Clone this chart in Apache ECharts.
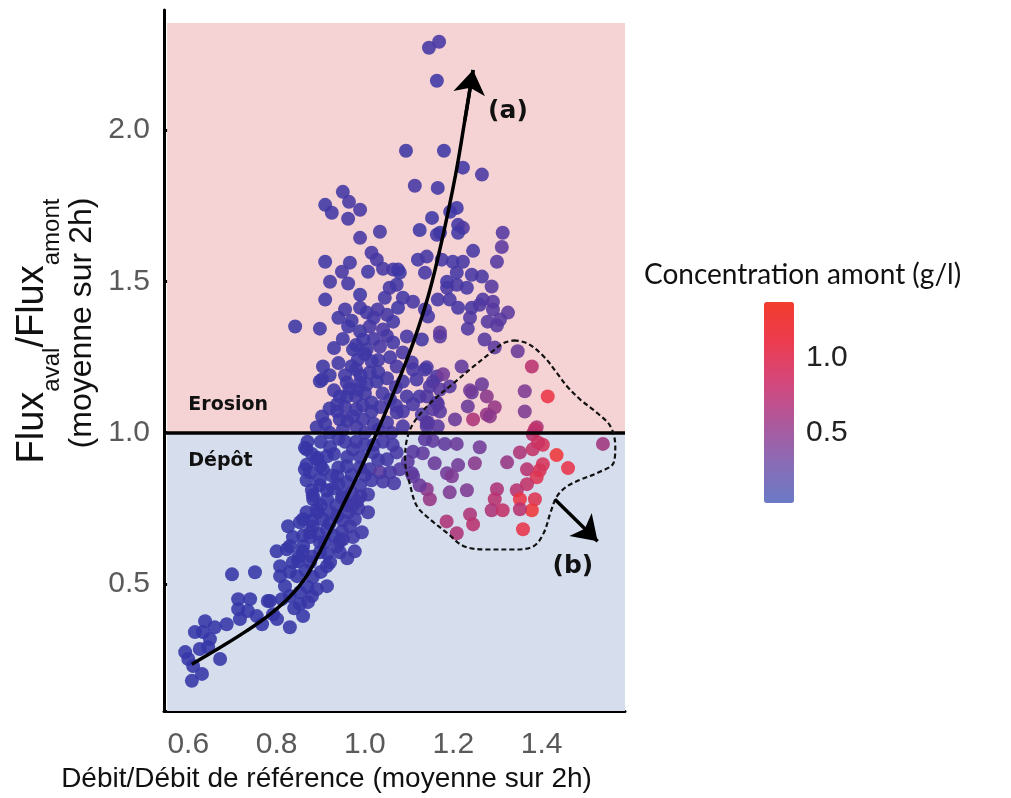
<!DOCTYPE html>
<html><head><meta charset="utf-8">
<script src="https://cdn.jsdelivr.net/npm/echarts@6/dist/echarts.min.js"></script>
<style>html,body{margin:0;padding:0;background:#fff}#c{width:1011px;height:798px}</style>
</head><body><div id="c"></div>
<script>
// ---- data: [débit ratio, flux ratio, concentration amont (g/l)] ----
const topPoints = [
[1.145,2.272,0.28],[1.168,2.292,0.30],[1.163,2.163,0.20],[1.093,1.932,0.22],[1.179,1.932,0.20],
[1.222,1.876,0.25],[1.265,1.853,0.32],[1.113,1.816,0.30],[1.165,1.809,0.25],[0.950,1.796,0.25],
[0.910,1.753,0.22],[0.964,1.763,0.30],[0.925,1.727,0.25],[0.989,1.737,0.30],[0.962,1.707,0.28],
[1.152,1.710,0.20],[1.208,1.743,0.20],[1.193,1.730,0.22],[1.211,1.687,0.25],[1.222,1.677,0.35],
[1.124,1.670,0.20],[1.034,1.664,0.30],[0.989,1.644,0.30],[1.312,1.661,0.38],[1.170,1.661,0.18],
[1.211,1.661,0.25],[1.310,1.614,0.42],[1.245,1.601,0.30],[1.299,1.565,0.38],[1.163,1.654,0.25]
];
const upperPoints = [
[0.910,1.565,0.20],[0.966,1.562,0.25],[1.015,1.595,0.30],[1.027,1.572,0.30],[0.948,1.532,0.30],
[0.921,1.499,0.28],[0.962,1.493,0.25],[1.007,1.532,0.20],[1.041,1.542,0.30],[1.064,1.539,0.28],
[1.075,1.539,0.25],[1.120,1.572,0.25],[1.140,1.582,0.30],[1.174,1.572,0.30],[0.910,1.440,0.20],
[0.989,1.456,0.20],[0.955,1.407,0.25],[0.989,1.413,0.25],[1.004,1.397,0.25],[1.029,1.407,0.30],
[1.045,1.446,0.25],[1.056,1.479,0.30],[1.072,1.489,0.25],[1.075,1.413,0.20],[1.086,1.446,0.25],
[1.109,1.433,0.30],[1.136,1.407,0.28],[1.143,1.384,0.30],[1.165,1.440,0.30],[1.186,1.479,0.32],
[1.199,1.565,0.25],[1.222,1.565,0.30],[1.136,1.529,0.30],[1.208,1.529,0.28],[1.242,1.522,0.30],
[1.265,1.516,0.32],[1.186,1.499,0.25],[1.208,1.489,0.30],[1.231,1.479,0.30],[1.287,1.483,0.38],
[1.079,1.529,0.20],[1.192,1.440,0.30],[1.267,1.440,0.35],[1.290,1.433,0.38],[1.211,1.413,0.30],
[1.242,1.413,0.32],[1.260,1.423,0.35],[1.290,1.407,0.38],[1.324,1.397,0.42],[1.238,1.380,0.35],
[1.278,1.367,0.38],[1.306,1.374,0.40],[1.233,1.344,0.35],[1.299,1.354,0.40]
];
const midPoints = [
[0.842,1.351,0.18],[0.898,1.344,0.20],[0.962,1.351,0.20],[0.989,1.335,0.22],[1.011,1.351,0.28],
[1.041,1.341,0.30],[1.064,1.367,0.25],[1.095,1.318,0.30],[1.129,1.308,0.28],[1.170,1.331,0.45],
[0.996,1.308,0.20],[0.973,1.275,0.18],[1.004,1.275,0.22],[1.034,1.285,0.30],[1.064,1.298,0.25],
[1.086,1.265,0.30],[0.984,1.242,0.20],[1.015,1.236,0.20],[1.057,1.249,0.25],[0.905,1.219,0.18],
[0.903,1.176,0.18],[0.980,1.209,0.20],[1.011,1.199,0.20],[1.072,1.219,0.30],[1.106,1.232,0.30],
[1.140,1.216,0.35],[1.163,1.186,0.32],[1.177,1.193,0.55],[0.959,1.166,0.20],[0.989,1.166,0.20],
[1.027,1.169,0.18],[1.086,1.169,0.25],[1.117,1.176,0.30],[1.147,1.153,0.35],[1.192,1.153,0.40],
[0.943,1.120,0.18],[0.980,1.120,0.20],[1.015,1.100,0.20],[1.095,1.120,0.28],[1.124,1.120,0.30],
[1.163,1.100,0.35],[0.903,1.054,0.18],[0.937,1.070,0.20],[0.973,1.054,0.20],[1.086,1.070,0.30],
[1.129,1.060,0.32],[1.170,1.070,0.40],[0.891,1.018,0.18],[1.140,1.021,0.35],
[1.271,1.308,0.40],[1.294,1.282,0.42],[1.346,1.269,0.50],[1.219,1.219,0.45],[1.109,1.209,0.30],
[1.136,1.209,0.30],[1.154,1.169,0.35],[1.265,1.160,0.50],[1.242,1.133,0.50],[1.170,1.143,0.40],
[1.165,1.094,0.40],[1.233,1.087,0.50],[1.204,1.044,0.50],[1.143,1.034,0.40],[1.238,1.140,0.55],
[1.170,1.318,0.40],
[0.898,1.170,0.18],[0.937,1.094,0.20],[0.959,1.120,0.18],[0.984,1.143,0.20],[1.004,1.160,0.20],
[0.980,1.077,0.20],[1.015,1.070,0.22],[0.943,1.044,0.18],[0.996,1.044,0.20],[1.057,1.110,0.25],
[1.072,1.067,0.28],[1.109,1.094,0.30],[1.140,1.120,0.35],[1.154,1.077,0.38],[1.140,1.034,0.38],
[1.165,1.021,0.40],[1.086,1.021,0.30],[1.050,1.034,0.25]
];
const corePoints = [
[0.920,1.000,0.18],[0.950,1.010,0.20],[0.980,1.020,0.20],[1.000,1.000,0.22],[1.030,1.010,0.25],
[0.910,1.030,0.18],[0.960,1.040,0.20],[1.020,1.030,0.22],[1.060,1.000,0.28],[0.920,1.080,0.18],
[0.955,1.085,0.20],[0.995,1.090,0.20],[1.035,1.085,0.25],[1.070,1.090,0.28],[0.930,1.140,0.20],
[0.965,1.145,0.20],[1.000,1.130,0.20],[1.040,1.130,0.25],[1.070,1.150,0.28],[0.920,1.190,0.18],
[0.955,1.190,0.20],[0.990,1.190,0.22],[1.030,1.200,0.22],[1.050,1.180,0.28],[0.940,1.230,0.20],
[0.970,1.220,0.20],[1.000,1.260,0.20],[1.030,1.240,0.25],[0.950,1.310,0.20],[0.980,1.290,0.22],
[1.020,1.310,0.25],[1.050,1.320,0.28],[0.930,1.280,0.20],[0.940,1.380,0.22],[0.970,1.370,0.22],
[1.020,1.380,0.25],[1.050,1.390,0.28]
];
const lowerPoints = [
[0.864,0.950,0.15],[0.868,0.894,0.15],[0.893,0.917,0.15],[0.921,0.953,0.18],[0.955,0.970,0.20],
[0.973,0.945,0.20],[1.000,0.960,0.20],[1.018,0.935,0.22],[1.041,0.970,0.25],[1.063,0.960,0.28],
[1.072,0.935,0.30],[1.050,0.912,0.25],[0.905,0.879,0.15],[0.876,0.869,0.15],[0.925,0.859,0.18],
[0.959,0.889,0.18],[0.989,0.886,0.20],[1.011,0.879,0.22],[1.034,0.869,0.40],[1.057,0.869,0.30],
[1.079,0.879,0.35],[0.868,0.843,0.15],[0.898,0.826,0.15],[0.928,0.816,0.18],[0.959,0.836,0.18],
[0.989,0.826,0.20],[1.015,0.843,0.22],[1.041,0.839,0.28],[1.066,0.833,0.30],[0.883,0.780,0.15],
[0.914,0.780,0.15],[0.948,0.786,0.18],[0.982,0.773,0.20],[1.007,0.796,0.22],[0.868,0.737,0.15],
[0.893,0.737,0.15],[0.921,0.737,0.18],[0.962,0.737,0.20],[1.007,0.737,0.22],[0.977,0.714,0.20],
[0.826,0.691,0.12],[0.853,0.704,0.12],[0.882,0.691,0.15],[0.914,0.681,0.15],[0.948,0.674,0.18],
[0.837,0.655,0.12],[0.876,0.655,0.15],[0.909,0.638,0.15],[0.943,0.641,0.18],[0.973,0.655,0.20],
[0.823,0.615,0.12],[0.859,0.608,0.12],[0.898,0.605,0.15],[0.943,0.605,0.18],[0.977,0.608,0.20],
[0.849,0.575,0.12],[0.921,0.572,0.15],
[0.868,0.945,0.15],[0.864,0.879,0.15],[0.891,0.912,0.15],[0.914,0.922,0.15],[0.898,0.846,0.15],
[0.937,0.856,0.18],[0.882,0.793,0.15],[0.914,0.810,0.15],[0.950,0.793,0.18],[0.891,0.747,0.15],
[0.860,0.714,0.12],[0.905,0.714,0.15],[0.937,0.724,0.18],[0.971,0.757,0.20],[0.876,0.671,0.15],
[0.966,0.691,0.20],[0.993,0.671,0.20],[0.800,0.608,0.12],[0.830,0.625,0.12],[0.860,0.625,0.12],
[0.898,0.638,0.15],[0.937,0.625,0.18],[0.950,0.648,0.18],[0.808,0.559,0.12],[0.837,0.572,0.12],
[0.876,0.572,0.15],[0.914,0.559,0.15],[0.808,0.526,0.12],[0.846,0.526,0.12],[0.882,0.523,0.15],
[0.914,0.493,0.15],[0.891,0.483,0.15],[0.853,0.473,0.12],[0.819,0.493,0.12],[0.785,0.444,0.12],
[0.812,0.450,0.12],[0.853,0.434,0.12],[0.871,0.440,0.15],[0.860,0.394,0.12],[0.830,0.357,0.12]
];
const denseLowPoints = [
[0.870,0.970,0.15],[0.900,0.970,0.15],[0.940,0.980,0.18],[0.980,0.970,0.20],[1.020,0.960,0.22],
[0.880,0.930,0.15],[0.930,0.930,0.18],[0.960,0.920,0.18],[0.990,0.920,0.20],[1.030,0.910,0.22],
[0.900,0.890,0.15],[0.940,0.885,0.18],[0.970,0.860,0.18],[1.000,0.860,0.20],[0.880,0.810,0.15],
[0.940,0.830,0.18],[0.970,0.800,0.20],[0.990,0.790,0.20],[0.900,0.760,0.15],[0.935,0.760,0.18],
[0.960,0.760,0.20],[0.985,0.750,0.20],[0.880,0.710,0.15],[0.920,0.700,0.15],[0.950,0.710,0.18],
[0.860,0.660,0.12],[0.895,0.665,0.15],[0.930,0.660,0.15],[0.850,0.590,0.12],[0.880,0.590,0.15],
[0.915,0.600,0.15],[0.960,0.585,0.18],[0.830,0.540,0.12],[0.865,0.545,0.12],[0.900,0.540,0.15],
[0.830,0.460,0.12],[0.870,0.490,0.12],[0.840,0.420,0.12],[0.880,0.460,0.15]
];
const tailPoints = [
[0.699,0.532,0.10],[0.751,0.539,0.10],[0.713,0.450,0.10],[0.740,0.450,0.10],[0.713,0.417,0.10],
[0.735,0.411,0.10],[0.755,0.394,0.10],[0.780,0.444,0.12],[0.767,0.367,0.10],[0.792,0.400,0.12],
[0.801,0.384,0.12],[0.687,0.367,0.10],[0.660,0.357,0.10],[0.638,0.377,0.10],[0.633,0.341,0.10],
[0.615,0.341,0.10],[0.649,0.318,0.10],[0.672,0.252,0.10],[0.626,0.285,0.10],[0.593,0.275,0.10],
[0.600,0.252,0.10],[0.611,0.229,0.10],[0.631,0.203,0.10],[0.608,0.180,0.10],[0.645,0.291,0.10],
[0.717,0.384,0.10]
];
const plumePoints = [
[1.378,1.219,0.85],[1.276,1.120,0.65],[1.362,1.137,0.60],[1.414,1.120,1.15],[1.294,1.084,0.70],
[1.276,1.060,0.70],[1.362,1.070,0.60],[1.245,1.044,0.80],[1.389,1.018,0.80],[1.283,1.054,0.65],
[1.385,1.011,0.90],[1.539,0.963,0.75],[1.403,0.960,1.00],[1.434,0.926,1.25],[1.460,0.883,1.10],
[1.380,0.945,0.90],[1.351,0.935,0.80],[1.322,0.902,0.70],[1.367,0.879,0.85],[1.396,0.876,1.00],
[1.403,0.896,1.00],[1.389,0.853,1.05],[1.367,0.830,0.90],[1.344,0.810,0.85],[1.385,0.780,1.05],
[1.351,0.780,1.15],[1.378,0.744,1.25],[1.299,0.813,0.80],[1.294,0.780,0.85],[1.287,0.744,0.80],
[1.312,0.744,0.90],[1.351,0.747,0.85],[1.358,0.681,1.10],[1.238,0.730,0.80],[1.245,0.697,0.85],
[1.231,0.810,0.60],[1.192,0.803,0.60],[1.140,0.813,0.65],[1.147,0.780,0.70],[1.185,0.707,0.80],
[1.208,0.668,0.80],[1.260,0.952,0.55],[1.249,0.899,0.65],[1.211,0.893,0.55],[1.186,0.866,0.55],
[1.197,0.856,0.60],[1.158,0.899,0.50],[1.131,0.932,0.45],[1.109,0.937,0.40],[1.097,0.904,0.40],
[1.106,0.866,0.40],[1.124,0.826,0.50],[1.181,0.963,0.45],[1.154,0.973,0.45],[1.136,0.978,0.40],
[1.208,0.963,0.50],[1.380,0.995,0.85],[1.392,0.968,0.95],[1.109,0.856,0.45]
];
// trend curve (a), contour of group (b), arrow (b)
const curveA = [[0.608,0.235],[0.672,0.290],[0.732,0.345],[0.785,0.400],[0.830,0.458],[0.865,0.520],
[0.895,0.598],[0.925,0.685],[0.958,0.783],[0.990,0.880],[1.027,1.000],[1.070,1.150],[1.110,1.300],
[1.145,1.460],[1.175,1.640],[1.205,1.850],[1.226,2.030],[1.245,2.199]];
const zoneB = [[1.337,1.305],[1.367,1.296],[1.405,1.252],[1.435,1.197],[1.458,1.153],[1.488,1.109],
[1.526,1.065],[1.556,1.021],[1.567,0.955],[1.563,0.900],[1.526,0.867],[1.488,0.845],[1.458,0.823],
[1.435,0.790],[1.420,0.735],[1.405,0.669],[1.382,0.625],[1.337,0.614],[1.277,0.614],[1.224,0.625],
[1.186,0.669],[1.148,0.713],[1.118,0.757],[1.103,0.823],[1.091,0.911],[1.095,0.977],[1.110,1.032],
[1.148,1.098],[1.201,1.164],[1.246,1.219],[1.284,1.263],[1.314,1.296],[1.337,1.305]];
const arrowB = [[1.430,0.780],[1.527,0.641]];
const xTicks = [0.6, 0.8, 1.0, 1.2, 1.4];
const yTicks = [0.5, 1.0, 1.5, 2.0];
const cbTicks = [0.5, 1.0];
const annotations = [
  {name: '(a)', coord: [1.324, 2.060], size: 25, align: 'center'},
  {name: '(b)', coord: [1.471, 0.559], size: 25, align: 'center'},
  {name: 'Erosion', coord: [0.600, 1.092], size: 19, align: 'left'},
  {name: 'Dépôt', coord: [0.600, 0.907], size: 19, align: 'left'}
];
const X_MIN = 0.545, X_MAX = 1.589, Y_MIN = 0.080, Y_MAX = 2.397, Y_BG_TOP = 2.354;
const C_MIN = 0.03, C_MAX = 1.37;

const allPoints = [].concat(tailPoints, denseLowPoints, lowerPoints, corePoints, midPoints, upperPoints, topPoints, plumePoints);
const fmt = v => Number(v).toFixed(1);

const chart = echarts.init(document.getElementById('c'));
chart.setOption({
  animation: false,
  backgroundColor: '#ffffff',
  title: {
    text: 'Concentration amont (g/l)', left: 644, top: 261, padding: 0,
    textStyle: {fontFamily: 'Lato', fontSize: 28, fontWeight: 'normal', color: '#111'}
  },
  grid: [
    {left: 164, right: 386, top: 10, bottom: 86},
    {left: 764, width: 30, top: 302, height: 201}
  ],
  xAxis: [{
    type: 'value', min: X_MIN, max: X_MAX, gridIndex: 0,
    axisLine: {show: true, onZero: false, lineStyle: {color: '#000', width: 3}},
    axisTick: {show: true, inside: true, length: 11, lineStyle: {color: '#000', width: 3}, customValues: xTicks},
    axisLabel: {customValues: xTicks, formatter: fmt, margin: 19, fontSize: 30, fontFamily: 'Liberation Sans', color: '#5a5a5a'},
    splitLine: {show: false},
    name: 'Débit/Débit de référence (moyenne sur 2h)', nameLocation: 'middle', nameGap: 53,
    nameTextStyle: {fontSize: 28, fontFamily: 'Liberation Sans', color: '#111', padding: [0, 136, 0, 0]}
  }, {
    type: 'value', gridIndex: 1, show: false, min: 0, max: 1
  }],
  yAxis: [{
    type: 'value', min: Y_MIN, max: Y_MAX, gridIndex: 0,
    axisLine: {show: true, onZero: false, lineStyle: {color: '#000', width: 3}},
    axisTick: {show: true, inside: true, length: 9, lineStyle: {color: '#000', width: 3}, customValues: yTicks},
    axisLabel: {customValues: yTicks, formatter: fmt, margin: 14, fontSize: 30, fontFamily: 'Liberation Sans', color: '#5a5a5a'},
    splitLine: {show: false}
  }, {
    type: 'value', gridIndex: 1, position: 'right', min: C_MIN, max: C_MAX,
    axisLine: {show: false},
    axisTick: {show: true, inside: true, length: 7, lineStyle: {color: 'rgba(255,255,255,0.9)', width: 1.5}, customValues: cbTicks},
    axisLabel: {customValues: cbTicks, formatter: fmt, margin: 12, fontSize: 30, fontFamily: 'Liberation Sans', color: '#222'},
    splitLine: {show: false}
  }, {
    type: 'value', gridIndex: 1, position: 'left', min: C_MIN, max: C_MAX,
    axisLine: {show: false},
    axisTick: {show: true, inside: true, length: 7, lineStyle: {color: 'rgba(255,255,255,0.9)', width: 1.5}, customValues: cbTicks},
    axisLabel: {show: false},
    splitLine: {show: false}
  }],
  visualMap: {
    type: 'continuous', min: C_MIN, max: C_MAX, dimension: 2, seriesIndex: 1,
    left: 764, top: 302, itemWidth: 30, itemHeight: 201, padding: 0,
    calculable: false, showLabel: false, text: null, z: 1,
    inRange: {color: ['#2e36a8', '#4537a3', '#753a96', '#b53272', '#e8334a', '#f43b2c']},
    controller: {inRange: {color: ['#6b7ac6', '#8a6cb6', '#ad589c', '#d4487c', '#ec3c50', '#f23c2c']}}
  },
  graphic: [
    {type: 'text', x: 33, y: 331, rotation: Math.PI / 2, z: 10,
     style: {text: '{b|Flux}{s|aval}{b|/Flux}{s|amont}', align: 'center', verticalAlign: 'middle',
       rich: {
         b: {fontSize: 38, fontFamily: 'Liberation Sans', fill: '#111', lineHeight: 38, padding: [0, 0, 12, 0], verticalAlign: 'top'},
         s: {fontSize: 24, fontFamily: 'Liberation Sans', fill: '#111', lineHeight: 24, padding: [26, 0, 0, 0], verticalAlign: 'top'}
       }}},
    {type: 'text', x: 82, y: 323, rotation: Math.PI / 2, z: 10,
     style: {text: '(moyenne sur 2h)', align: 'center', verticalAlign: 'middle',
       fontSize: 32, fontFamily: 'Liberation Sans', fill: '#111'}}
  ],
  series: [
    {
      type: 'line', name: 'zones', data: [], xAxisIndex: 0, yAxisIndex: 0, z: 1, silent: true,
      markArea: {
        silent: true,
        data: [
          [{xAxis: 0.552, yAxis: 1, itemStyle: {color: '#f5d3d4'}}, {xAxis: X_MAX, yAxis: Y_BG_TOP}],
          [{xAxis: 0.552, yAxis: Y_MIN, itemStyle: {color: '#d6deee'}}, {xAxis: X_MAX, yAxis: 1}]
        ],
        label: {show: false}
      }
    },
    {
      type: 'scatter', name: 'mesures', data: allPoints, xAxisIndex: 0, yAxisIndex: 0, z: 3,
      symbolSize: 14, itemStyle: {opacity: 0.88},
      emphasis: {disabled: true}
    },
    {
      type: 'line', name: 'seuil', data: [], z: 4, silent: true,
      markLine: {
        silent: true, symbol: ['none', 'none'], label: {show: false},
        lineStyle: {color: '#000', width: 3.5, type: 'solid'},
        data: [{yAxis: 1}]
      },
      markPoint: {
        silent: true, symbol: 'circle', symbolSize: 0,
        data: annotations.map(a => ({
          name: a.name, coord: a.coord,
          label: {show: true, formatter: '{b}', position: 'inside', align: a.align,
            fontFamily: 'DejaVu Sans', fontWeight: 'bold', fontSize: a.size, color: '#111'}
        }))
      }
    },
    {
      type: 'line', name: 'tendance (a)', data: curveA, smooth: 0.4, symbol: 'none', z: 5,
      lineStyle: {color: '#000', width: 3.5}, silent: true
    },
    {
      type: 'line', name: 'groupe (b)', data: zoneB, smooth: 0.35, symbol: 'none', z: 5,
      lineStyle: {color: '#111', width: 2.2, type: [5, 3]}, silent: true
    },
    {
      type: 'lines', name: 'flèches', coordinateSystem: 'cartesian2d', z: 6, silent: true,
      symbol: ['none', 'arrow'], symbolSize: 24,
      lineStyle: {color: '#000', width: 3.5, curveness: 0, opacity: 1},
      data: [
        {coords: [curveA[curveA.length - 2], curveA[curveA.length - 1]]},
        {coords: arrowB}
      ]
    }
  ]
});
</script>
</body></html>
